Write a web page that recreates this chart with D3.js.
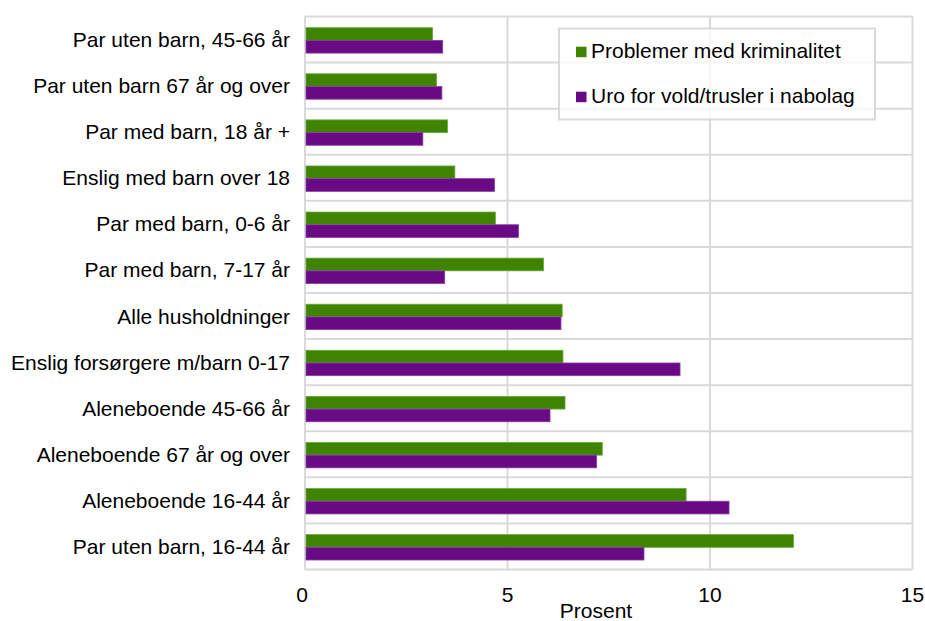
<!DOCTYPE html>
<html><head><meta charset="utf-8">
<script src="https://cdn.jsdelivr.net/npm/d3@7"></script>
<style>body{margin:0;background:#fff}svg{display:block;font-family:"Liberation Sans",Arial,sans-serif}</style>
</head><body><svg id="c" width="925" height="621"></svg>
<script>
const categories = ["Par uten barn, 45-66 år","Par uten barn 67 år og over","Par med barn, 18 år +","Enslig med barn over 18","Par med barn, 0-6 år","Par med barn, 7-17 år","Alle husholdninger","Enslig forsørgere m/barn 0-17","Aleneboende 45-66 år","Aleneboende 67 år og over","Aleneboende 16-44 år","Par uten barn, 16-44 år"];
const kriminalitet = [3.15,3.25,3.52,3.70,4.70,5.89,6.35,6.37,6.42,7.34,9.41,12.06];
const uro = [3.40,3.38,2.91,4.68,5.27,3.45,6.32,9.26,6.05,7.20,10.47,8.37];
const seriesNames = ["Problemer med kriminalitet","Uro for vold/trusler i nabolag"];
const xTicks = [0,5,10,15];
const axisTitle = "Prosent";

const colors = ["#3f8400","#690a85"];
const strokes = ["#6aa83a","#8b3aa6"];
const svg = d3.select("#c");
const L=305, R=912.5, T=16.5, B=569.5;
const x = d3.scaleLinear().domain([0,15]).range([L,R]);
const y = d3.scaleBand().domain(categories).range([T,B]);
const grid="#d9d9d9";
const fs = 21;

// gridlines
svg.append("g").selectAll("line").data(xTicks).join("line")
  .attr("x1",d=>x(d)).attr("x2",d=>x(d)).attr("y1",T).attr("y2",B)
  .attr("stroke",grid).attr("stroke-width",2);
svg.append("g").selectAll("line").data(d3.range(categories.length+1)).join("line")
  .attr("x1",L).attr("x2",R).attr("y1",i=>T+i*y.step()).attr("y2",i=>T+i*y.step())
  .attr("stroke",grid).attr("stroke-width",2);

const bh = 12.7;
const off = 11.2;
const data = [kriminalitet, uro];
data.forEach((vals,si)=>{
  svg.append("g").selectAll("rect").data(categories).join("rect")
    .attr("x",x(0)+1).attr("y",(d)=>y(d)+off+si*bh)
    .attr("width",(d,i)=>x(vals[i])-x(0)-1).attr("height",bh)
    .attr("fill",colors[si]).attr("stroke",strokes[si]).attr("stroke-width",0.8);
});

// category labels
svg.append("g").selectAll("text").data(categories).join("text")
  .attr("x",290).attr("y",d=>y(d)+y.bandwidth()/2+7.5)
  .attr("text-anchor","end").attr("font-size",fs).attr("fill","#000").text(d=>d);

// x tick labels
svg.append("g").selectAll("text").data(xTicks).join("text")
  .attr("x",d=>x(d)-(d===0?3:0)).attr("y",601.5).attr("text-anchor","middle")
  .attr("font-size",fs).attr("fill","#000").text(d=>d);
svg.append("text").attr("x",596).attr("y",618).attr("text-anchor","middle")
  .attr("font-size",fs).attr("fill","#000").text(axisTitle);

// legend
const lg = svg.append("g");
lg.append("rect").attr("x",559).attr("y",28.5).attr("width",316).attr("height",91)
  .attr("fill","#fff").attr("fill-opacity",0.8).attr("stroke",grid).attr("stroke-width",2);
seriesNames.forEach((n,i)=>{
  const yy = 51.7 + i*45;
  lg.append("rect").attr("x",576).attr("y",yy-5).attr("width",10.5).attr("height",10.5).attr("fill",colors[i]);
  lg.append("text").attr("x",591).attr("y",yy+6).attr("font-size",fs).attr("fill","#000").text(n);
});
</script></body></html>
